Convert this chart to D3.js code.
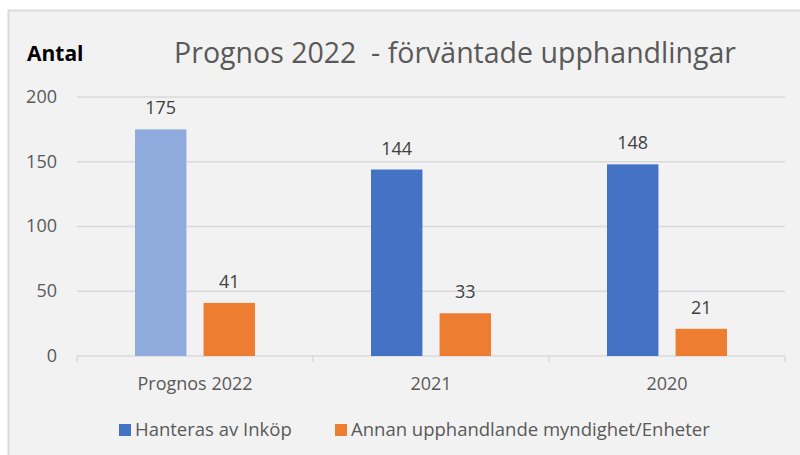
<html>
<head>
<style>
body { margin: 0; background: #ffffff; }
text { font-family: "Open Sans", "Segoe UI", sans-serif; }
</style>
</head>
<body>
<div id="chart"></div>
<script src="https://d3js.org/d3.v7.min.js"></script>
<script>
// data
var categories = ["Prognos 2022", "2021", "2020"];
var seriesNames = ["Hanteras av Inköp", "Annan upphandlande myndighet/Enheter"];
var inkop = [175, 144, 148];
var annan = [41, 33, 21];
var yTicks = [0, 50, 100, 150, 200];

var W = 800, H = 455;
var svg = d3.select("#chart").append("svg").attr("width", W).attr("height", H);

// chart frame
svg.append("rect").attr("x", 8.5).attr("y", 10.5).attr("width", 820).attr("height", 460)
    .attr("fill", "#f2f2f2").attr("stroke", "#d9d9d9").attr("stroke-width", 2);

var plotLeft = 77, plotRight = 785, plotTop = 97, plotBottom = 356;

var x0 = d3.scaleBand().domain(categories).range([plotLeft, plotRight]);
var x1 = d3.scaleBand().domain([0, 1]).range([58, 178]).paddingInner(0.25);
var y = d3.scaleLinear().domain([0, 200]).range([plotBottom, plotTop]);

// gridlines
svg.append("g").selectAll("line").data(yTicks.filter(function (d) { return d > 0; }))
    .join("line")
    .attr("x1", plotLeft).attr("x2", plotRight)
    .attr("y1", function (d) { return y(d); }).attr("y2", function (d) { return y(d); })
    .attr("stroke", "#d9d9d9").attr("stroke-width", 1.5);

// y axis labels
var yAxis = svg.append("g").attr("transform", "translate(57,0)")
    .call(d3.axisLeft(y).tickValues(yTicks).tickSize(0).tickPadding(0));
yAxis.select(".domain").remove();
yAxis.selectAll("text").attr("fill", "#595959").style("font-size", "18px")
    .style("font-family", "'Open Sans', sans-serif").attr("dy", "0.3em");

// x axis
var xAxis = svg.append("g").attr("transform", "translate(0," + plotBottom + ")")
    .call(d3.axisBottom(x0).tickSize(0).tickPadding(21));
xAxis.select(".domain").attr("stroke", "#d9d9d9").attr("stroke-width", 1.5)
    .attr("d", "M" + plotLeft + ",0H" + plotRight);
xAxis.selectAll("text").attr("fill", "#595959").style("font-size", "18px")
    .style("font-family", "'Open Sans', sans-serif");
svg.append("g").selectAll("line").data(d3.range(categories.length + 1))
    .join("line")
    .attr("x1", function (i) { return plotLeft + i * x0.step(); })
    .attr("x2", function (i) { return plotLeft + i * x0.step(); })
    .attr("y1", plotBottom).attr("y2", plotBottom + 6)
    .attr("stroke", "#d9d9d9").attr("stroke-width", 1.5);

// bars
var rows = [];
categories.forEach(function (c, i) {
    rows.push({ cat: c, s: 0, v: inkop[i], color: i === 0 ? "#8faadc" : "#4472c4" });
    rows.push({ cat: c, s: 1, v: annan[i], color: "#ed7d31" });
});

svg.append("g").selectAll("rect").data(rows).join("rect")
    .attr("x", function (d) { return x0(d.cat) + x1(d.s); })
    .attr("y", function (d) { return y(d.v); })
    .attr("width", x1.bandwidth())
    .attr("height", function (d) { return y(0) - y(d.v); })
    .attr("fill", function (d) { return d.color; });

// value labels
svg.append("g").selectAll("text").data(rows).join("text")
    .attr("x", function (d) { return x0(d.cat) + x1(d.s) + x1.bandwidth() / 2; })
    .attr("y", function (d) { return y(d.v) - 15; })
    .attr("text-anchor", "middle")
    .attr("fill", "#404040").style("font-size", "18px")
    .text(function (d) { return d.v; });

// title
svg.append("text").attr("x", 455).attr("y", 63).attr("text-anchor", "middle")
    .attr("fill", "#595959").style("font-size", "28.5px")
    .style("white-space", "pre")
    .text("Prognos 2022  - förväntade upphandlingar");

svg.append("text").attr("x", 27).attr("y", 61)
    .attr("fill", "#000000").style("font-size", "21px").style("font-weight", "bold")
    .text("Antal");

// legend
var legendX = [119, 335];
var lg = svg.append("g").selectAll("g").data(seriesNames).join("g")
    .attr("transform", function (d, i) { return "translate(" + legendX[i] + ",430)"; });
lg.append("rect").attr("x", 0).attr("y", -6).attr("width", 12).attr("height", 12)
    .attr("fill", function (d, i) { return i === 0 ? "#4472c4" : "#ed7d31"; });
lg.append("text").attr("x", 16).attr("y", 0).attr("dy", "0.35em")
    .attr("fill", "#595959").style("font-size", "18.5px")
    .text(function (d) { return d; });
</script>
</body>
</html>
